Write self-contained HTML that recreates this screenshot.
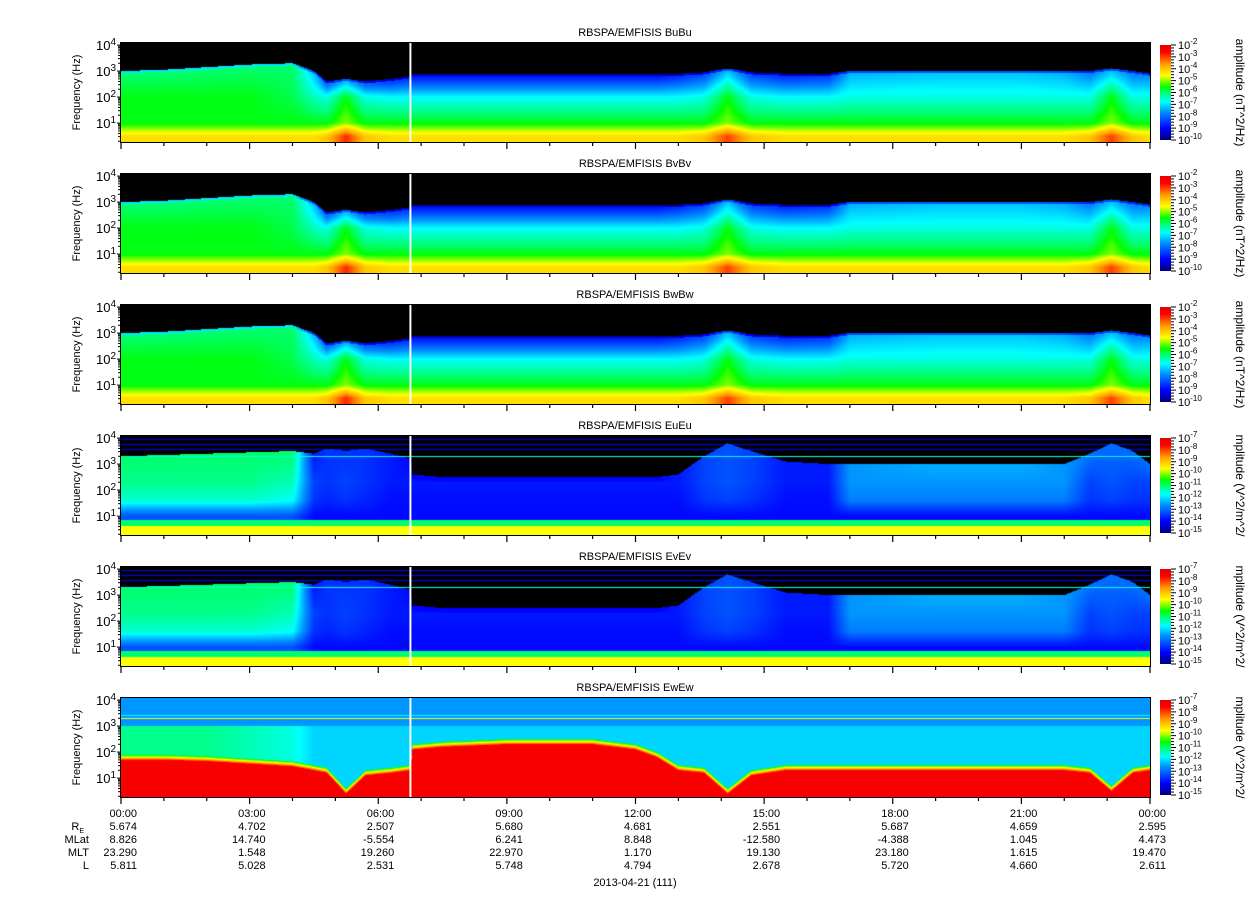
<!DOCTYPE html>
<html><head><meta charset="utf-8">
<style>
body{margin:0;background:#fff;}
#wrap{position:relative;width:1248px;height:899px;overflow:hidden;background:#fff;font-family:"Liberation Sans",sans-serif;}
canvas{position:absolute;}
svg{position:absolute;left:0;top:0;}
text{font-family:"Liberation Sans",sans-serif;fill:#000;}
</style></head>
<body>
<div id="wrap">
<svg id="svg" width="1248" height="899"></svg>
</div>
<script>
// ---- data ----
const times = [0,1,2,3,4,4.5,4.8,5.25,5.7,6.3,6.75,6.8,7.5,9,11,12,12.5,13,13.6,14.15,14.7,15.5,16.5,17,19,21,22,22.6,23.1,23.6,24];
const bCut  = [3.0,3.05,3.15,3.25,3.3,3.0,2.6,2.7,2.6,2.7,2.8,2.9,2.9,2.9,2.9,2.9,2.9,2.9,2.95,3.1,2.95,2.9,2.9,3.0,3.0,3.0,3.0,3.0,3.1,3.0,2.9];
const bUp   = [0.5,0.5,0.5,0.5,0.5,0.35,0.25,0.35,0.25,0.2,0.2,0.15,0.15,0.15,0.15,0.15,0.15,0.18,0.22,0.35,0.22,0.18,0.2,0.33,0.35,0.35,0.33,0.28,0.35,0.28,0.3];
const bMid  = [0.55,0.55,0.55,0.55,0.52,0.45,0.42,0.55,0.42,0.4,0.4,0.4,0.4,0.4,0.4,0.4,0.4,0.4,0.42,0.55,0.42,0.4,0.4,0.42,0.42,0.42,0.42,0.42,0.55,0.42,0.42];
const bLow  = [0.55,0.55,0.55,0.55,0.55,0.55,0.55,0.62,0.55,0.55,0.55,0.55,0.55,0.55,0.55,0.55,0.55,0.55,0.55,0.62,0.55,0.55,0.55,0.55,0.55,0.55,0.55,0.55,0.62,0.55,0.55];
const bBase = [0.72,0.72,0.72,0.72,0.72,0.72,0.75,0.9,0.75,0.72,0.72,0.72,0.72,0.72,0.72,0.72,0.72,0.72,0.75,0.88,0.75,0.72,0.72,0.72,0.72,0.72,0.72,0.75,0.88,0.75,0.72];
const eCut  = [3.3,3.35,3.4,3.45,3.5,3.4,3.6,3.5,3.6,3.4,3.2,2.6,2.5,2.5,2.5,2.5,2.5,2.6,3.3,3.8,3.5,3.1,3.0,3.0,3.0,3.0,3.0,3.4,3.8,3.5,3.0];
const eUp   = [0.5,0.5,0.5,0.5,0.5,0.15,0.18,0.18,0.18,0.15,0.13,0.12,0.12,0.12,0.12,0.12,0.12,0.15,0.2,0.22,0.2,0.15,0.15,0.3,0.32,0.32,0.3,0.25,0.25,0.25,0.25];
const eMid  = [0.48,0.48,0.48,0.48,0.45,0.2,0.18,0.2,0.18,0.15,0.15,0.15,0.15,0.15,0.15,0.15,0.15,0.15,0.2,0.22,0.2,0.15,0.15,0.3,0.3,0.3,0.3,0.2,0.22,0.2,0.2];
const eLow  = [0.22,0.22,0.22,0.22,0.22,0.13,0.13,0.13,0.13,0.13,0.13,0.13,0.13,0.13,0.13,0.13,0.13,0.13,0.13,0.13,0.13,0.13,0.13,0.13,0.13,0.13,0.13,0.13,0.13,0.13,0.13];
const wRed  = [1.7,1.7,1.65,1.55,1.45,1.3,1.2,0.4,1.1,1.2,1.3,2.1,2.2,2.3,2.3,2.1,1.8,1.3,1.2,0.4,1.1,1.3,1.3,1.3,1.3,1.3,1.3,1.2,0.5,1.2,1.3];
const wMid  = [0.48,0.48,0.48,0.45,0.42,0.36,0.36,0.36,0.36,0.36,0.36,0.36,0.36,0.36,0.36,0.36,0.36,0.36,0.36,0.36,0.36,0.36,0.36,0.36,0.36,0.36,0.36,0.36,0.36,0.36,0.36];
const titles = ["BuBu","BvBv","BwBw","EuEu","EvEv","EwEw"];
const timeLabels = ["00:00","03:00","06:00","09:00","12:00","15:00","18:00","21:00","00:00"];
const reVals   = ["5.674","4.702","2.507","5.680","4.681","2.551","5.687","4.659","2.595"];
const mlatVals = ["8.826","14.740","-5.554","6.241","8.848","-12.580","-4.388","1.045","4.473"];
const mltVals  = ["23.290","1.548","19.260","22.970","1.170","19.130","23.180","1.615","19.470"];
const lVals    = ["5.811","5.028","2.531","5.748","4.794","2.678","5.720","4.660","2.611"];
const gapHour = 6.75;

// ---- geometry ----
const X0=121, W=1029, H=99, DEC=26, LFTOP=4.08;
const tops=[43,174,305,436,567,698];
const xOf = h => X0 + h/24*W;
const yOf = (top,lf) => top + (LFTOP-lf)*DEC;

function interp(arr,t){
  for(let i=0;i<times.length-1;i++){
    if(t<=times[i+1]){const f=(t-times[i])/(times[i+1]-times[i]);return arr[i]+(arr[i+1]-arr[i])*f;}
  }
  return arr[arr.length-1];
}
const stops=[[0,[0,0,130]],[0.12,[0,0,255]],[0.3,[0,150,255]],[0.4,[0,255,255]],[0.5,[0,255,110]],[0.56,[0,255,0]],[0.68,[255,255,0]],[0.8,[255,160,0]],[0.93,[255,0,0]],[1,[235,0,0]]];
function cmap(v){
  if(v<0)return [0,0,0];
  v=Math.min(1,v);
  for(let i=0;i<stops.length-1;i++){
    if(v<=stops[i+1][0]){const a=stops[i],b=stops[i+1],f=(v-a[0])/(b[0]-a[0]);
      return [0,1,2].map(k=>Math.round(a[1][k]+(b[1][k]-a[1][k])*f));}
  }
  return stops[stops.length-1][1];
}
function lin(pts,x){
  if(x<=pts[0][0])return pts[0][1];
  for(let i=0;i<pts.length-1;i++){
    if(x<=pts[i+1][0]){const f=(x-pts[i][0])/(pts[i+1][0]-pts[i][0]);return pts[i][1]+(pts[i+1][1]-pts[i][1])*f;}
  }
  return pts[pts.length-1][1];
}
function levelB(t,lf){
  const cut=interp(bCut,t);
  if(lf>cut)return -1;
  if(lf>cut-0.08)return Math.max(0.05,interp(bUp,t)-0.12);
  return lin([[0.5,interp(bBase,t)],[1.0,interp(bLow,t)],[2.0,interp(bMid,t)],[cut-0.15,interp(bUp,t)]],lf);
}
function levelE(t,lf){
  if(lf<0.62)return 0.68;
  if(lf<0.86)return 0.5;
  const cut=interp(eCut,t);
  if(Math.abs(lf-3.3)<0.02)return 0.42;
  if(lf>cut){
    if(Math.abs(lf-3.55)<0.015||Math.abs(lf-3.75)<0.015||Math.abs(lf-3.95)<0.015)return 0.12;
    return -1;
  }
  return lin([[1.0,interp(eLow,t)],[1.6,interp(eMid,t)*0.9],[2.3,interp(eMid,t)],[cut-0.15,interp(eUp,t)]],lf);
}
function levelW(t,lf){
  const red=interp(wRed,t);
  if(lf<red)return 0.95;
  if(lf<red+0.2)return lin([[red,0.9],[red+0.2,0.5]],lf);
  if(Math.abs(lf-3.3)<0.025)return 0.68;
  if(Math.abs(lf-3.4)<0.015)return 0.4;
  if(lf<3.0)return interp(wMid,t);
  return 0.3;
}
const levelFns=[levelB,levelB,levelB,levelE,levelE,levelW];

const wrap=document.getElementById('wrap');
tops.forEach((top,p)=>{
  const c=document.createElement('canvas');
  
  
  c.width=W;c.height=H;c.style.left=X0+'px';c.style.top=top+'px';
  const ctx=c.getContext('2d');const img=ctx.createImageData(W,H);
  for(let x=0;x<W;x++){
    const t=(x+0.5)/W*24;
    for(let y=0;y<H;y++){
      const lf=LFTOP-(y+0.5)/DEC;
      const col=cmap(levelFns[p](t,lf));
      const i=(y*W+x)*4;img.data[i]=col[0];img.data[i+1]=col[1];img.data[i+2]=col[2];img.data[i+3]=255;
    }
  }
  ctx.putImageData(img,0,0);
  wrap.insertBefore(c,document.getElementById('svg'));
  const cb=document.createElement('canvas');
  
  
  cb.width=11;cb.height=H-4;cb.style.left='1160px';cb.style.top=(top+2)+'px';
  const cx=cb.getContext('2d');
  for(let y=0;y<H-4;y++){const col=cmap(1-y/(H-5));cx.fillStyle=`rgb(${col})`;cx.fillRect(0,y,11,1);}
  wrap.insertBefore(cb,document.getElementById('svg'));
});

const NS='http://www.w3.org/2000/svg';
const svg=document.getElementById('svg');
function el(tag,attrs,parent){const e=document.createElementNS(NS,tag);for(const k in attrs)e.setAttribute(k,attrs[k]);(parent||svg).appendChild(e);return e;}
function pow10(parent,x,y,exp,anchor,name,fs,sfs){
  const t=el('text',{x:x,y:y,'font-size':fs||13,'text-anchor':anchor||'end'},parent);
  
  
  t.appendChild(document.createTextNode('10'));
  const s=document.createElementNS(NS,'tspan');s.setAttribute('dy','-5');s.setAttribute('font-size',sfs||10);s.textContent=exp;t.appendChild(s);
  return t;
}
tops.forEach((top,p)=>{
  const g=el('g',{});
  
  
  const bot=top+H;
  const tt=el('text',{x:635,y:top-7,'font-size':11,'text-anchor':'middle'},g);
  
  
  tt.textContent='RBSPA/EMFISIS  '+titles[p];
  const gap=el('line',{x1:xOf(gapHour),x2:xOf(gapHour),y1:top,y2:bot,stroke:'#fff','stroke-width':2},g);
  
  
  el('rect',{x:X0-0.5,y:top-0.5,width:W+1,height:H+1,fill:'none',stroke:'#000','stroke-width':1},g);
  for(let d=0;d<=4;d++){
    for(let m=1;m<10;m++){
      const lf=d+Math.log10(m);const y=yOf(top,lf);
      if(y<top||y>bot)continue;
      el('line',{x1:X0-(m===1?4:3),x2:X0,y1:y,y2:y,stroke:'#000','stroke-width':1},g);
    }
    if(d>=1){pow10(g,116,yOf(top,d)+5,String(d),'end','y-tick-label');}
  }
  const yt=el('text',{x:0,y:0,'font-size':11,'text-anchor':'middle',transform:`translate(80,${top+H/2}) rotate(-90)`},g);
  
  
  yt.textContent='Frequency (Hz)';
  for(let h=0;h<=24;h++){
    const x=xOf(h);el('line',{x1:x,x2:x,y1:bot,y2:bot+(h%3===0?7:4),stroke:'#000','stroke-width':1.2},g);
  }
  const cbTop=top+2, cbBot=bot-2;
  const exps = p<3 ? ['-2','-3','-4','-5','-6','-7','-8','-9','-10'] : ['-7','-8','-9','-10','-11','-12','-13','-14','-15'];
  exps.forEach((e,i)=>{
    const y=cbTop+i*(cbBot-cbTop)/8;
    el('line',{x1:1171,x2:1176,y1:y,y2:y,stroke:'#000'},g);
    if(i<8){for(let k=1;k<4;k++){const yy=y+k*(cbBot-cbTop)/32;el('line',{x1:1171,x2:1174,y1:yy,y2:yy,stroke:'#000'},g);}}
    pow10(g,1178,y+4,e,'start','colorbar-tick-label',11,8);
  });
  const cl=el('text',{x:0,y:0,'font-size':12,'text-anchor':'middle',transform:`translate(1236,${top+H/2}) rotate(90)`},g);
  
  
  cl.textContent = p<3 ? 'amplitude (nT^2/Hz)' : 'mplitude (V^2/m^2/';
});
const rowsY=[813,826,839,852,865];
const rowNames=['','R','MLat','MLT','L'];
const rowData=[timeLabels,reVals,mlatVals,mltVals,lVals];
rowNames.forEach((n,r)=>{
  if(!n)return;
  const t=el('text',{x:89,y:rowsY[r]+4,'font-size':11,'text-anchor':'end'});
  
  
  t.textContent=n;
  if(n==='R'){const s=document.createElementNS(NS,'tspan');s.setAttribute('dy','3');s.setAttribute('font-size','7');s.textContent='E';t.appendChild(s);t.setAttribute('x',84);}
});
rowData.forEach((arr,r)=>{
  arr.forEach((v,i)=>{
    const t=el('text',{x:xOf(i*3)+16,y:rowsY[r]+4,'font-size':11,'text-anchor':'end'});
    
    
    t.textContent=v;
  });
});
const dl=el('text',{x:635,y:886,'font-size':11,'text-anchor':'middle'});


dl.textContent='2013-04-21 (111)';
</script>
</body></html>
